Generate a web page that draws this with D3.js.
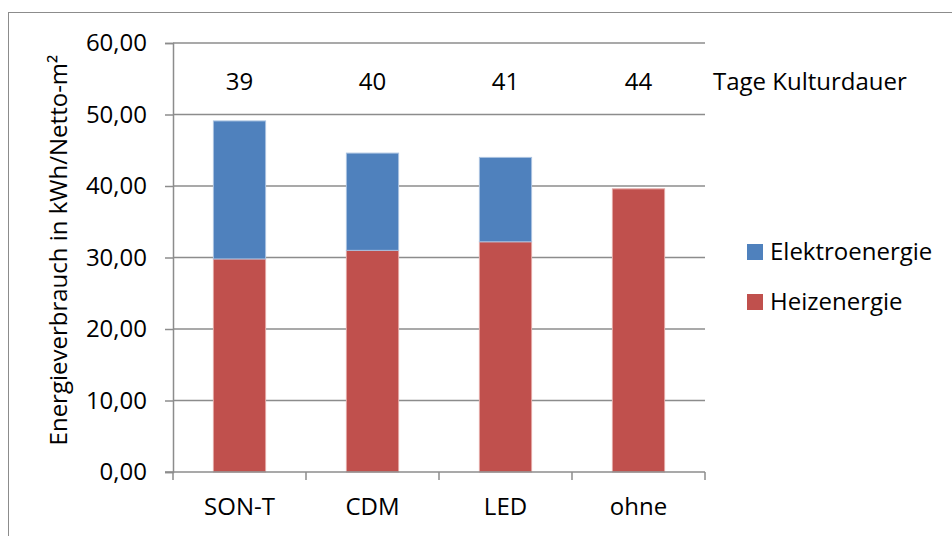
<!DOCTYPE html>
<html>
<head>
<meta charset="utf-8">
<script src="https://cdn.jsdelivr.net/npm/d3@7"></script>
<style>
  html, body { margin: 0; padding: 0; background: #fff; }
  svg { display: block; font-family: "Open Sans", "Noto Sans", sans-serif; }
</style>
</head>
<body>
<svg id="chart" width="952" height="536"></svg>
<script>
// Lamp types (categories)
const categories = ["SON-T", "CDM", "LED", "ohne"];
// Heating energy, kWh per net m²
const heizenergie = [29.8, 31.0, 32.2, 39.6];
// Electrical energy, kWh per net m²
const elektroenergie = [19.3, 13.6, 11.8, 0];
// Crop duration in days per lamp type
const kulturdauer = [39, 40, 41, 44];
// Y-axis ticks
const yTicks = [0, 10, 20, 30, 40, 50, 60];

const seriesNames = ["Heizenergie", "Elektroenergie"];
const colors = { Heizenergie: "#C0504D", Elektroenergie: "#4F81BD" };
const edgeColors = { Heizenergie: "#E3A6A4", Elektroenergie: "#A9C1E0" };

const svg = d3.select("#chart");
const fmt = v => d3.format(".2f")(v).replace(".", ",");

const margin = { left: 173, right: 247, top: 43, bottom: 64 };
const W = 952, H = 536;
const x0 = margin.left, x1 = W - margin.right;
const yTop = margin.top, yBot = H - margin.bottom;

// outer chart frame
svg.append("rect")
  .attr("x", 8.5).attr("y", 12.5)
  .attr("width", 1000).attr("height", 1000)
  .attr("fill", "none").attr("stroke", "#8c8c8c").attr("stroke-width", 1);

const x = d3.scaleBand().domain(categories).range([x0, x1])
  .paddingInner(0.6).paddingOuter(0.3);
const xStep = d3.scaleBand().domain(categories).range([x0, x1]).padding(0);
const y = d3.scaleLinear().domain([0, 60]).range([yBot, yTop]);

// gridlines
svg.append("g")
  .selectAll("line").data(yTicks.filter(t => t > 0)).join("line")
  .attr("x1", x0).attr("x2", x1)
  .attr("y1", d => y(d)).attr("y2", d => y(d))
  .attr("stroke", "#8c8c8c").attr("stroke-width", 1.5);

// stacked bars
const table = categories.map((c, i) => ({
  cat: c, Heizenergie: heizenergie[i], Elektroenergie: elektroenergie[i]
}));
const stack = d3.stack().keys(seriesNames)(table);
svg.append("g").selectAll("g").data(stack).join("g")
  .attr("fill", d => colors[d.key])
  .attr("stroke", d => edgeColors[d.key])
  .attr("stroke-width", 1)
  .selectAll("rect").data(d => d.filter(p => p[1] - p[0] > 0)).join("rect")
  .attr("x", p => x(p.data.cat) + 0.5)
  .attr("width", x.bandwidth() - 1)
  .attr("y", p => y(p[1]))
  .attr("height", p => y(p[0]) - y(p[1]));

// y axis
const yAxis = d3.axisLeft(y).tickValues(yTicks).tickFormat(fmt)
  .tickSize(8).tickPadding(18);
const gy = svg.append("g").attr("transform", `translate(${x0},0)`).call(yAxis);
gy.select(".domain").attr("stroke", "#8c8c8c").attr("stroke-width", 1.5);
gy.selectAll(".tick line").attr("stroke", "#8c8c8c").attr("stroke-width", 1.5);
gy.selectAll(".tick text").attr("font-size", 24).attr("fill", "#000")
  .attr("font-family", "'Open Sans', sans-serif");

// x axis
const xAxis = d3.axisBottom(x).tickSize(0).tickPadding(26);
const gx = svg.append("g").attr("transform", `translate(0,${yBot})`).call(xAxis);
gx.select(".domain").remove();
gx.selectAll(".tick text").attr("font-size", 24).attr("fill", "#000")
  .attr("font-family", "'Open Sans', sans-serif");
svg.append("line").attr("x1", x0 - 8).attr("x2", x1)
  .attr("y1", yBot).attr("y2", yBot)
  .attr("stroke", "#8c8c8c").attr("stroke-width", 1.5);
// category separators
const seps = categories.map(c => xStep(c)).concat([x1]);
svg.append("g").selectAll("line").data(seps).join("line")
  .attr("x1", d => d).attr("x2", d => d)
  .attr("y1", yBot).attr("y2", yBot + 8)
  .attr("stroke", "#8c8c8c").attr("stroke-width", 1.5);

// y axis title
svg.append("text")
  .attr("transform", `translate(67,250) rotate(-90)`)
  .attr("text-anchor", "middle")
  .attr("font-size", 24).attr("fill", "#000")
  .text("Energieverbrauch in kWh/Netto-m²");

// crop duration labels
svg.append("g").selectAll("text").data(kulturdauer).join("text")
  .attr("x", (d, i) => x(categories[i]) + x.bandwidth() / 2)
  .attr("y", 90)
  .attr("text-anchor", "middle")
  .attr("font-size", 24).attr("fill", "#000")
  .text(d => d);
svg.append("text").attr("x", 713).attr("y", 90)
  .attr("font-size", 24).attr("fill", "#000")
  .text("Tage Kulturdauer");

// legend
const legendItems = ["Elektroenergie", "Heizenergie"];
const lg = svg.append("g").selectAll("g").data(legendItems).join("g")
  .attr("transform", (d, i) => `translate(747,${244 + i * 50})`);
lg.append("rect").attr("width", 16).attr("height", 16)
  .attr("fill", d => colors[d]);
lg.append("text").attr("x", 23).attr("y", 16)
  .attr("font-size", 24).attr("fill", "#000")
  .text(d => d);
</script>
</body>
</html>
